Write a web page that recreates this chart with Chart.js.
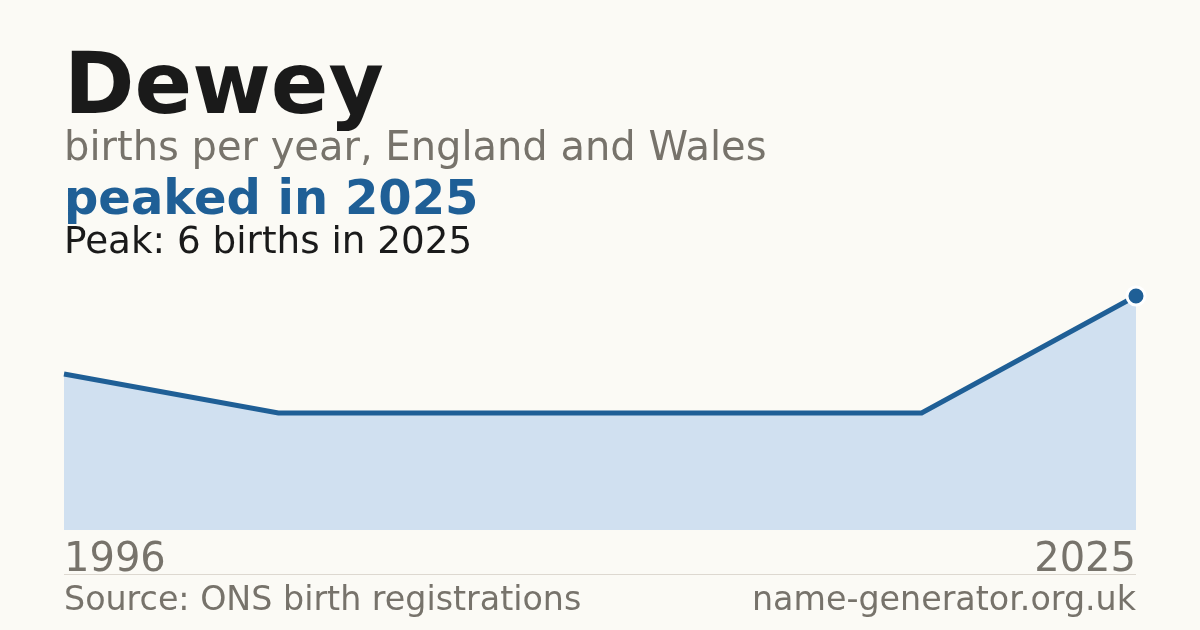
<!DOCTYPE html>
<html>
<head>
<meta charset="utf-8">
<script src="https://cdn.jsdelivr.net/npm/chart.js@4.4.1/dist/chart.umd.min.js"></script>
<style>
  html, body { margin: 0; padding: 0; background: #fbfaf5; }
  #wrap { position: relative; width: 1200px; height: 630px; overflow: hidden;
          font-family: "DejaVu Sans", sans-serif; }
  #wrap canvas { position: absolute; left: 0; top: 0; }
  .t { position: absolute; line-height: 1; white-space: nowrap; }
  #title { left: 64px; top: 41px; font-size: 85px; font-weight: bold; color: #1a1a1a; }
  #sub { left: 64px; top: 126px; font-size: 40px; color: #77736b; }
  #peaked { left: 64px; top: 173px; font-size: 48px; font-weight: bold; color: #1f5f96; }
  #peak { left: 64px; top: 222px; font-size: 37.3px; color: #1a1a1a; }
  .yr { top: 537px; font-size: 40px; color: #77736b; }
  #yrFirst { left: 64px; }
  #yrLast { right: 64px; }
  #rule { position: absolute; left: 64px; width: 1072px; top: 574px; height: 1px; background: #ddd8d0; }
  .foot { top: 582px; font-size: 33.3px; color: #77736b; }
  #src { left: 64px; }
  #site { right: 64px; }
</style>
</head>
<body>
<div id="wrap">
  <canvas id="chart" width="1200" height="630"></canvas>
  <div class="t" id="title">Dewey</div>
  <div class="t" id="sub">births per year, England and Wales</div>
  <div class="t" id="peaked">peaked in 2025</div>
  <div class="t" id="peak">Peak: 6 births in 2025</div>
  <div class="t yr" id="yrFirst"></div>
  <div class="t yr" id="yrLast"></div>
  <div id="rule"></div>
  <div class="t foot" id="src">Source: ONS birth registrations</div>
  <div class="t foot" id="site">name-generator.org.uk</div>
</div>
<script>
// years with recorded births, and the count for each
const years = ["1996", "2003", "2009", "2014", "2020", "2025"];
const births = [4, 3, 3, 3, 3, 6];

const LINE = "#1f5f96";
const FILL = "#d0e0f0";

document.getElementById("yrFirst").textContent = years[0];
document.getElementById("yrLast").textContent = years[years.length - 1];

const peakIdx = births.indexOf(Math.max(...births));

new Chart(document.getElementById("chart"), {
  type: "line",
  data: {
    labels: years,
    datasets: [{
      data: births,
      borderColor: LINE,
      borderWidth: 5,
      backgroundColor: FILL,
      fill: "origin",
      tension: 0,
      clip: false,
      pointRadius: births.map((_, i) => i === peakIdx ? 9 : 0),
      pointBackgroundColor: LINE,
      pointBorderColor: "#ffffff",
      pointBorderWidth: 3,
      pointHoverRadius: 0,
    }],
  },
  options: {
    responsive: false,
    animation: false,
    layout: { padding: { left: 64, right: 64, top: 296, bottom: 100 } },
    plugins: { legend: { display: false }, tooltip: { enabled: false } },
    scales: {
      x: { display: false, offset: false },
      y: { display: false, min: 0, max: 6 },
    },
  },
});
</script>
</body>
</html>
